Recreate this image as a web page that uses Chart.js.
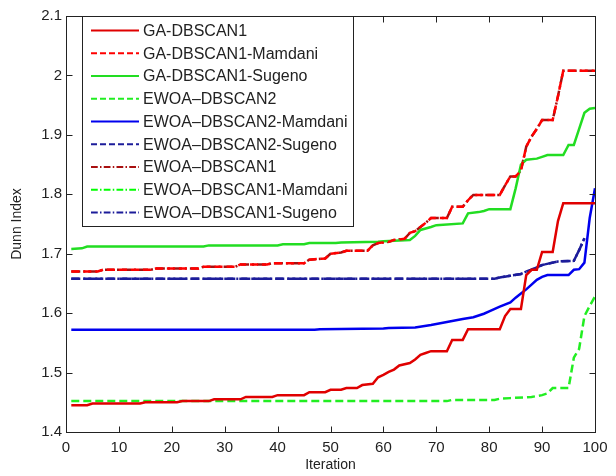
<!DOCTYPE html>
<html>
<head>
<meta charset="utf-8">
<script src="https://cdn.jsdelivr.net/npm/chart.js@4.4.1/dist/chart.umd.min.js"></script>
<style>
  html, body { margin: 0; padding: 0; background: #fff; }
  canvas { display: block; }
</style>
</head>
<body>
<canvas id="myChart" width="616" height="476"></canvas>
<script>
// -- legend names, in legend order --
const seriesNames = [
    'GA-DBSCAN1',
    'GA-DBSCAN1-Mamdani',
    'GA-DBSCAN1-Sugeno',
    'EWOA\u2013DBSCAN2',
    'EWOA\u2013DBSCAN2-Mamdani',
    'EWOA\u2013DBSCAN2-Sugeno',
    'EWOA\u2013DBSCAN1',
    'EWOA\u2013DBSCAN1-Mamdani',
    'EWOA\u2013DBSCAN1-Sugeno'
];

// -- axis ticks --
const xTicks = [0, 10, 20, 30, 40, 50, 60, 70, 80, 90, 100];
const yTicks = [1.4, 1.5, 1.6, 1.7, 1.8, 1.9, 2.0, 2.1];

// -- curves: iteration where the value changes / value --
// GA-DBSCAN1 (red, solid)
const gaIter = [1, 4, 5, 14, 15, 21, 22, 27, 28, 33, 34, 39, 40, 45, 46, 49, 50, 52, 53, 55, 56, 58, 59, 60, 61, 62, 63, 65, 66, 67, 68, 69, 72, 73, 75, 76, 82, 83, 84, 86, 87, 88, 89, 90, 92, 93, 94, 100];
const gaVal  = [1.445, 1.445, 1.448, 1.448, 1.450, 1.450, 1.452, 1.452, 1.455, 1.455, 1.459, 1.459, 1.462, 1.462, 1.467, 1.467, 1.471, 1.471, 1.474, 1.474, 1.479, 1.481, 1.492, 1.496, 1.501, 1.505, 1.512, 1.516, 1.522, 1.530, 1.533, 1.536, 1.536, 1.555, 1.555, 1.573, 1.573, 1.595, 1.607, 1.607, 1.664, 1.673, 1.673, 1.703, 1.703, 1.755, 1.785, 1.785];

// GA-DBSCAN1-Mamdani (red, dashed)
const gaMamIter = [1, 6, 7, 16, 17, 25, 26, 32, 33, 38, 39, 45, 46, 49, 50, 52, 53, 57, 58, 59, 61, 62, 64, 65, 66, 67, 68, 69, 72, 73, 75, 76, 77, 82, 83, 84, 85, 86, 87, 88, 89, 90, 92, 93, 94, 100];
const gaMamVal  = [1.670, 1.670, 1.673, 1.673, 1.675, 1.675, 1.678, 1.678, 1.682, 1.682, 1.684, 1.684, 1.690, 1.692, 1.700, 1.702, 1.705, 1.705, 1.714, 1.718, 1.720, 1.723, 1.725, 1.735, 1.738, 1.745, 1.752, 1.760, 1.760, 1.779, 1.779, 1.790, 1.799, 1.799, 1.815, 1.830, 1.830, 1.840, 1.880, 1.897, 1.910, 1.925, 1.925, 1.965, 2.008, 2.008];

// GA-DBSCAN1-Sugeno (green, solid)
const gaSugIter = [1, 3, 4, 26, 27, 40, 41, 45, 46, 51, 52, 59, 60, 65, 66, 67, 69, 70, 75, 76, 78, 79, 80, 84, 85, 86, 87, 89, 90, 91, 94, 95, 96, 97, 98, 99, 100];
const gaSugVal  = [1.708, 1.709, 1.712, 1.712, 1.714, 1.714, 1.716, 1.716, 1.718, 1.718, 1.719, 1.720, 1.721, 1.723, 1.730, 1.740, 1.745, 1.748, 1.751, 1.768, 1.770, 1.772, 1.775, 1.775, 1.810, 1.850, 1.858, 1.860, 1.863, 1.866, 1.866, 1.883, 1.883, 1.910, 1.937, 1.944, 1.945];

// EWOA-DBSCAN2 (green, dashed)
const ew2Iter = [1, 72, 73, 81, 82, 84, 88, 90, 91, 92, 95, 96, 97, 98, 99, 100];
const ew2Val  = [1.452, 1.452, 1.454, 1.454, 1.456, 1.457, 1.459, 1.462, 1.465, 1.474, 1.474, 1.525, 1.540, 1.595, 1.612, 1.628];

// EWOA-DBSCAN2-Mamdani (blue, solid)
const ew2MamIter = [1, 47, 48, 60, 61, 66, 69, 72, 75, 77, 79, 80, 82, 84, 85, 86, 87, 88, 89, 90, 91, 95, 96, 97, 98, 99, 100];
const ew2MamVal  = [1.572, 1.572, 1.573, 1.574, 1.575, 1.576, 1.580, 1.585, 1.590, 1.593, 1.599, 1.603, 1.611, 1.618, 1.626, 1.633, 1.640, 1.648, 1.656, 1.661, 1.664, 1.664, 1.673, 1.674, 1.685, 1.760, 1.810];

// EWOA-DBSCAN2-Sugeno (navy, dashed)
const ew2SugIter = [1, 81, 82, 84, 86, 87, 88, 90, 93, 96, 97, 98];
const ew2SugVal  = [1.658, 1.658, 1.660, 1.663, 1.666, 1.670, 1.673, 1.681, 1.687, 1.688, 1.706, 1.726];

// EWOA-DBSCAN1 curves lie under the ones above; the -Mamdani one is not visible at all
const ew1Iter = gaMamIter,     ew1Val = gaMamVal;
const ew1MamIter = [],         ew1MamVal = [];
const ew1SugIter = ew2SugIter, ew1SugVal = ew2SugVal;

// --> zip iteration/value arrays into points <--
function pts(xs, ys)
{
    return xs.map((x, i) => ({ x: x, y: ys[i] }));
}

const DASH = [8, 4];
const DASHDOT = [9, 3, 2, 3];

function mkSet(name, xs, ys, color, dash)
{
    return {
        label: name,
        data: pts(xs, ys),
        borderColor: color,
        backgroundColor: color,
        borderWidth: 2.5,
        borderDash: dash,
        pointRadius: 0,
        tension: 0,
        fill: false
    };
}

// -- legend + box + inward ticks (MATLAB look) --
const matlabFrame = {
    id: 'matlabFrame',
    afterDraw(chart) {
        const c = chart.ctx;
        const a = chart.chartArea;
        const xs = chart.scales.x, ys = chart.scales.y;
        const L = Math.round(a.left) + 0.5, R = Math.round(a.right) + 0.5;
        const T = Math.round(a.top) + 0.5, B = Math.round(a.bottom) + 0.5;
        c.save();
        c.setLineDash([]);
        c.strokeStyle = '#222';
        c.lineWidth = 1;
        c.beginPath();
        for (let v of xTicks) {
            const px = Math.round(xs.getPixelForValue(v)) + 0.5;
            c.moveTo(px, B); c.lineTo(px, B - 6);
            c.moveTo(px, T); c.lineTo(px, T + 6);
        }
        for (let v of yTicks) {
            const py = Math.round(ys.getPixelForValue(v)) + 0.5;
            c.moveTo(L, py); c.lineTo(L + 6, py);
            c.moveTo(R, py); c.lineTo(R - 6, py);
        }
        c.stroke();
        c.strokeRect(L, T, R - L, B - T);

        // legend box
        const bx = 82.5, by = T, bw = 271, bh = 210;
        c.fillStyle = '#fff';
        c.fillRect(bx, by, bw, bh);
        c.strokeStyle = '#222';
        c.strokeRect(bx, by, bw, bh);
        c.font = '16px "Liberation Sans", Arial, sans-serif';
        c.textBaseline = 'middle';
        c.textAlign = 'left';
        chart.data.datasets.forEach((ds, i) => {
            const y = 30.5 + i * 22.75;
            c.strokeStyle = ds.borderColor;
            c.lineWidth = 2;
            c.setLineDash(ds.borderDash.map(d => d * 0.75));
            c.beginPath();
            c.moveTo(91, y); c.lineTo(139, y);
            c.stroke();
            c.setLineDash([]);
            c.fillStyle = '#222';
            c.fillText(ds.label, 143, y + 1);
        });
        c.restore();
    }
};

Chart.defaults.font.family = '"Liberation Sans", Arial, sans-serif';
Chart.defaults.color = '#222';

let chartObj = {
    type: 'line',
    data: {
        datasets: [
            mkSet(seriesNames[0], gaIter, gaVal, '#e00000', []),
            mkSet(seriesNames[1], gaMamIter, gaMamVal, '#ff0000', DASH),
            mkSet(seriesNames[2], gaSugIter, gaSugVal, '#22dd22', []),
            mkSet(seriesNames[3], ew2Iter, ew2Val, '#22ee22', DASH),
            mkSet(seriesNames[4], ew2MamIter, ew2MamVal, '#0000ee', []),
            mkSet(seriesNames[5], ew2SugIter, ew2SugVal, '#1c1c9a', DASH),
            mkSet(seriesNames[6], ew1Iter, ew1Val, '#a81010', DASHDOT),
            mkSet(seriesNames[7], ew1MamIter, ew1MamVal, '#00ff00', DASHDOT),
            mkSet(seriesNames[8], ew1SugIter, ew1SugVal, '#1c1c9a', DASHDOT)
        ]
    },
    options: {
        responsive: false,
        animation: false,
        devicePixelRatio: 1,
        layout: { padding: { left: 0, top: 16, right: 21, bottom: 0 } },
        plugins: {
            legend: { display: false },
            tooltip: { enabled: false }
        },
        scales: {
            x: {
                type: 'linear',
                min: 0,
                max: 100,
                afterBuildTicks: s => { s.ticks = xTicks.map(v => ({ value: v })); },
                afterFit: s => { s.height = 44; },
                grid: { display: false, drawTicks: false },
                border: { display: false },
                ticks: { font: { size: 15 }, padding: 7, maxRotation: 0 },
                title: { display: true, text: 'Iteration', font: { size: 14 }, padding: { top: 0, bottom: 2 } }
            },
            y: {
                min: 1.4,
                max: 2.1,
                afterBuildTicks: s => { s.ticks = yTicks.map(v => ({ value: v })); },
                afterFit: s => { s.width = 66; },
                grid: { display: false, drawTicks: false },
                border: { display: false },
                ticks: { font: { size: 15 }, padding: 4, callback: v => String(+v.toFixed(1)) },
                title: { display: true, text: 'Dunn Index', font: { size: 14 }, padding: { top: 9, bottom: 0 } }
            }
        }
    },
    plugins: [matlabFrame]
};

const ctx = document.getElementById('myChart').getContext('2d');
const myChart = new Chart(ctx, chartObj);
</script>
</body>
</html>
